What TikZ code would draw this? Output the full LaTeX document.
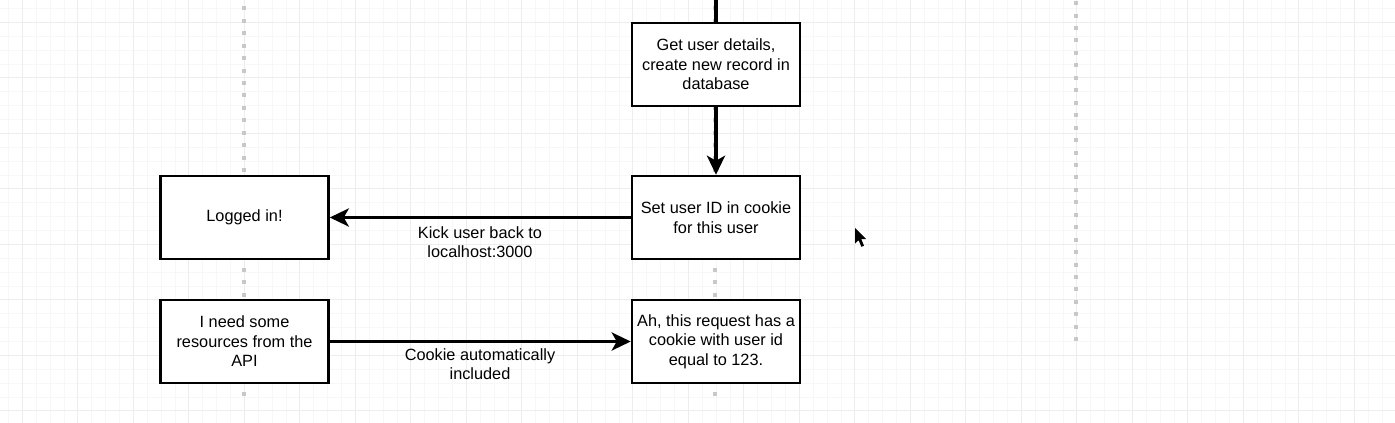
\documentclass[tikz,border=0pt]{standalone}
\usepackage{fontspec}
\setmainfont{Liberation Sans}
\usetikzlibrary{arrows.meta}
\definecolor{gridmajor}{HTML}{EDEDED}
\definecolor{gridminor}{HTML}{F7F7F7}
\definecolor{lifeline}{HTML}{C8C8C8}
\tikzset{
  box/.style={draw=black, line width=2.5pt, minimum width=168pt, minimum height=83pt,
    align=center, inner sep=2pt, font=\fontsize{16.3}{19.5}\selectfont, fill=white},
  conn/.style={line width=3.5pt, -{Stealth[length=19pt, width=18pt, inset=5pt]}},
  plainconn/.style={line width=3.5pt},
  lbl/.style={align=center, font=\fontsize{16.3}{19.5}\selectfont, inner sep=0pt},
  lifedots/.style={lifeline, line width=4pt, dash pattern=on 4pt off 8.45pt}
}
\begin{document}
\begin{tikzpicture}[x=1pt, y=-1pt]
\useasboundingbox (0,0) rectangle (1395,423);
\fill[white] (0,0) rectangle (1395,423);
% minor grid
\foreach \i in {0,...,101} {
  \draw[gridminor, line width=0.8pt] ({22.3+13.875*(\i-2)},0) -- ({22.3+13.875*(\i-2)},423);
}
\foreach \i in {0,...,32} {
  \draw[gridminor, line width=0.8pt] (0,{22.3+13.875*(\i-2)}) -- (1395,{22.3+13.875*(\i-2)});
}
% major grid
\foreach \i in {0,...,25} {
  \draw[gridmajor, line width=1pt] ({22.3+55.5*\i},0) -- ({22.3+55.5*\i},423);
}
\foreach \i in {0,...,7} {
  \draw[gridmajor, line width=1pt] (0,{22.3+55.5*\i}) -- (1395,{22.3+55.5*\i});
}
% lifelines
\draw[lifedots] (244,6.3) -- (244,400);
\draw[lifedots] (715,6.3) -- (715,400);
\draw[lifedots] (1076,1.1) -- (1076,345);
% boxes
\node[box] (details) at (716,64.5) {Get user details,\\create new record in\\database};
\node[box] (setid) at (716,217.5) {Set user ID in cookie\\for this user};
\node[box] (logged) at (244.5,217.5) {Logged in!};
\node[box] (need) at (244.5,341.5) {I need some\\resources from the\\API};
\node[box] (ah) at (716,341.5) {Ah, this request has a\\cookie with user id\\equal to 123.};
% connectors
\coordinate (top) at (716,-2);
\draw[plainconn] (top) -- (details.north);
\draw[conn] (details.south) -- (setid.north);
\draw[conn] (setid.west) -- (logged.east);
\draw[conn] (need.east) -- (ah.west);
% labels
\node[lbl] (kick) at (480,242) {Kick user back to\\localhost:3000};
\node[lbl] (cookie) at (480,364) {Cookie automatically\\included};
% mouse pointer
\fill[black] (855,228) -- (855,243.5) -- (858.6,240.2) -- (861.4,246.8) -- (864,245.7) -- (861.3,239.2) -- (866.2,239.2) -- cycle;
\end{tikzpicture}
\end{document}
